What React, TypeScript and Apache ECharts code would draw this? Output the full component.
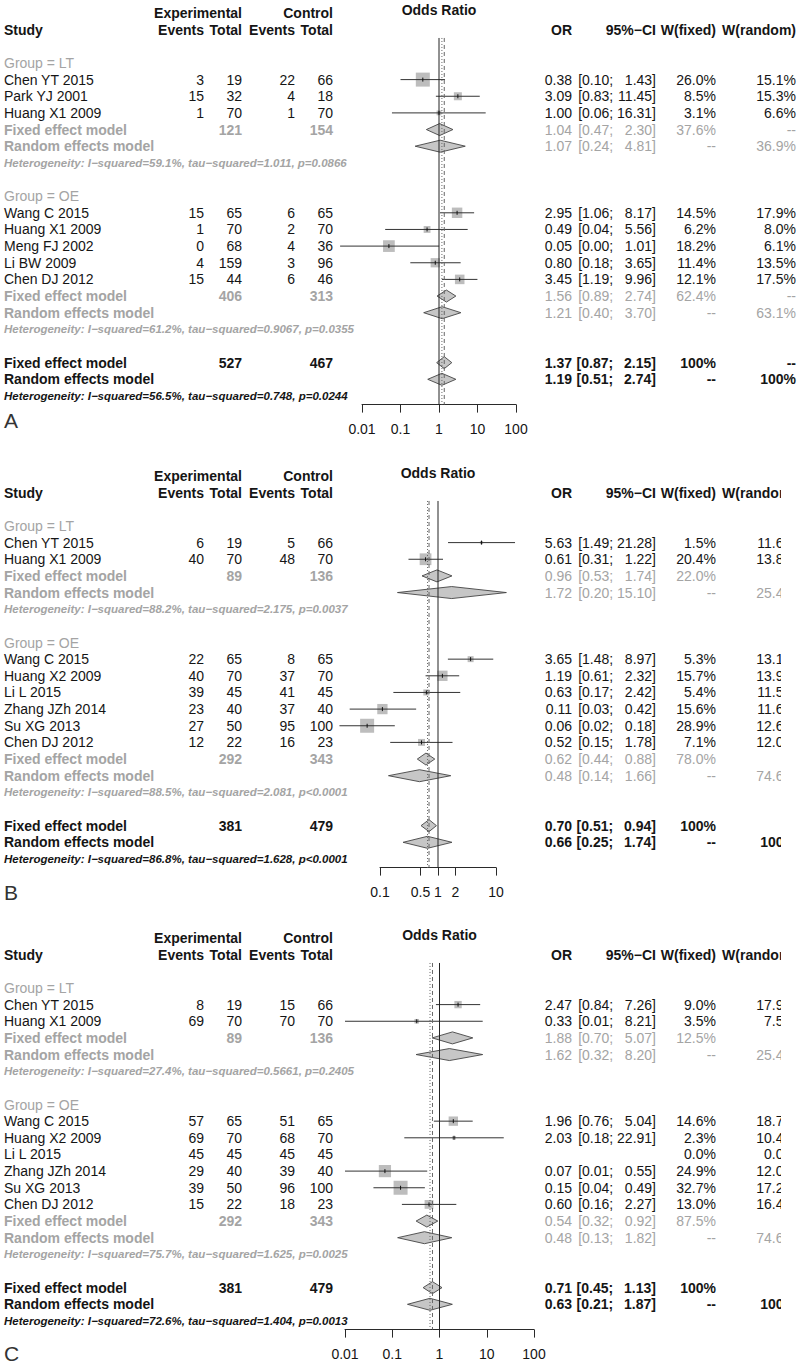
import React, { useEffect, useRef } from "react";
import * as echarts from "echarts";

// ===================== DATA : panel A =====================
const studiesA = ["Chen YT 2015", "Park YJ 2001", "Huang X1 2009", "Wang C 2015", "Huang X1 2009", "Meng FJ 2002", "Li BW 2009", "Chen DJ 2012"];
const groupOfA = ["LT", "LT", "LT", "OE", "OE", "OE", "OE", "OE"];
const expEventsA = [3, 15, 1, 15, 1, 0, 4, 15];
const expTotalA = [19, 32, 70, 65, 70, 68, 159, 44];
const ctrlEventsA = [22, 4, 1, 6, 2, 4, 3, 6];
const ctrlTotalA = [66, 18, 70, 65, 70, 36, 96, 46];
const orA = [0.38, 3.09, 1.0, 2.95, 0.49, 0.05, 0.8, 3.45];
const lowerA = [0.1, 0.83, 0.06, 1.06, 0.04, 0.0027, 0.18, 1.19];
const upperA = [1.43, 11.45, 16.31, 8.17, 5.56, 1.01, 3.65, 9.96];
const wFixedA = [26.0, 8.5, 3.1, 14.5, 6.2, 18.2, 11.4, 12.1];
const wRandomA = [15.1, 15.3, 6.6, 17.9, 8.0, 6.1, 13.5, 17.5];
const subgroupsA = ["LT", "OE"];
const subExpTotalA = [121, 406];
const subCtrlTotalA = [154, 313];
const subFixedOrA = [1.04, 1.56];
const subFixedLoA = [0.47, 0.89];
const subFixedHiA = [2.3, 2.74];
const subFixedWA = [37.6, 62.4];
const subRandomOrA = [1.07, 1.21];
const subRandomLoA = [0.24, 0.4];
const subRandomHiA = [4.81, 3.7];
const subRandomWA = [36.9, 63.1];
const subHetA = ["I\u2212squared=59.1%, tau\u2212squared=1.011, p=0.0866", "I\u2212squared=61.2%, tau\u2212squared=0.9067, p=0.0355"];
const overallTotalsA = [527, 467];
const overallFixedA = [1.37, 0.87, 2.15];
const overallRandomA = [1.19, 0.51, 2.74];
const overallHetA = "I\u2212squared=56.5%, tau\u2212squared=0.748, p=0.0244";
const ticksA = [0.01, 0.1, 1, 10, 100];

// ===================== DATA : panel B =====================
const studiesB = ["Chen YT 2015", "Huang X1 2009", "Wang C 2015", "Huang X2 2009", "Li L 2015", "Zhang JZh 2014", "Su XG 2013", "Chen DJ 2012"];
const groupOfB = ["LT", "LT", "OE", "OE", "OE", "OE", "OE", "OE"];
const expEventsB = [6, 40, 22, 40, 39, 23, 27, 12];
const expTotalB = [19, 70, 65, 70, 45, 40, 50, 22];
const ctrlEventsB = [5, 48, 8, 37, 41, 37, 95, 16];
const ctrlTotalB = [66, 70, 65, 70, 45, 40, 100, 23];
const orB = [5.63, 0.61, 3.65, 1.19, 0.63, 0.11, 0.06, 0.52];
const lowerB = [1.49, 0.31, 1.48, 0.61, 0.17, 0.03, 0.02, 0.15];
const upperB = [21.28, 1.22, 8.97, 2.32, 2.42, 0.42, 0.18, 1.78];
const wFixedB = [1.5, 20.4, 5.3, 15.7, 5.4, 15.6, 28.9, 7.1];
const wRandomB = [11.6, 13.8, 13.1, 13.9, 11.5, 11.6, 12.6, 12.0];
const subgroupsB = ["LT", "OE"];
const subExpTotalB = [89, 292];
const subCtrlTotalB = [136, 343];
const subFixedOrB = [0.96, 0.62];
const subFixedLoB = [0.53, 0.44];
const subFixedHiB = [1.74, 0.88];
const subFixedWB = [22.0, 78.0];
const subRandomOrB = [1.72, 0.48];
const subRandomLoB = [0.2, 0.14];
const subRandomHiB = [15.1, 1.66];
const subRandomWB = [25.4, 74.6];
const subHetB = ["I\u2212squared=88.2%, tau\u2212squared=2.175, p=0.0037", "I\u2212squared=88.5%, tau\u2212squared=2.081, p<0.0001"];
const overallTotalsB = [381, 479];
const overallFixedB = [0.7, 0.51, 0.94];
const overallRandomB = [0.66, 0.25, 1.74];
const overallHetB = "I\u2212squared=86.8%, tau\u2212squared=1.628, p<0.0001";
const ticksB = [0.1, 0.5, 1, 2, 10];

// ===================== DATA : panel C =====================
const studiesC = ["Chen YT 2015", "Huang X1 2009", "Wang C 2015", "Huang X2 2009", "Li L 2015", "Zhang JZh 2014", "Su XG 2013", "Chen DJ 2012"];
const groupOfC = ["LT", "LT", "OE", "OE", "OE", "OE", "OE", "OE"];
const expEventsC = [8, 69, 57, 69, 45, 29, 39, 15];
const expTotalC = [19, 70, 65, 70, 45, 40, 50, 22];
const ctrlEventsC = [15, 70, 51, 68, 45, 39, 96, 18];
const ctrlTotalC = [66, 70, 65, 70, 45, 40, 100, 23];
const orC = [2.47, 0.33, 1.96, 2.03, null, 0.07, 0.15, 0.6];
const lowerC = [0.84, 0.01, 0.76, 0.18, null, 0.01, 0.04, 0.16];
const upperC = [7.26, 8.21, 5.04, 22.91, null, 0.55, 0.49, 2.27];
const wFixedC = [9.0, 3.5, 14.6, 2.3, 0.0, 24.9, 32.7, 13.0];
const wRandomC = [17.9, 7.5, 18.7, 10.4, 0.0, 12.0, 17.2, 16.4];
const subgroupsC = ["LT", "OE"];
const subExpTotalC = [89, 292];
const subCtrlTotalC = [136, 343];
const subFixedOrC = [1.88, 0.54];
const subFixedLoC = [0.7, 0.32];
const subFixedHiC = [5.07, 0.92];
const subFixedWC = [12.5, 87.5];
const subRandomOrC = [1.62, 0.48];
const subRandomLoC = [0.32, 0.13];
const subRandomHiC = [8.2, 1.82];
const subRandomWC = [25.4, 74.6];
const subHetC = ["I\u2212squared=27.4%, tau\u2212squared=0.5661, p=0.2405", "I\u2212squared=75.7%, tau\u2212squared=1.625, p=0.0025"];
const overallTotalsC = [381, 479];
const overallFixedC = [0.71, 0.45, 1.13];
const overallRandomC = [0.63, 0.21, 1.87];
const overallHetC = "I\u2212squared=72.6%, tau\u2212squared=1.404, p=0.0013";
const ticksC = [0.01, 0.1, 1, 10, 100];

const panelLetters = ["A", "B", "C"];

// ===================== LAYOUT / STYLE =====================
const FONT = '"Liberation Sans", Arial, Helvetica, sans-serif';
const BLACK = "#151515";
const GRAY = "#a4a4a4";
const FS = 14;
const HET_FS = 11.5;
const STEP = 16.65;
const Y_MIN = 1.5;
const Y_MAX = 23.52;
const ROW0 = [13, 476, 938];
const AXIS_PX = [[362, 516], [380, 496], [345, 534]];
const LETTER_ROW = [24.47, 25.0, 24.95];
const COL = { study: 4, expEv: 204, expTot: 242, ctlEv: 295, ctlTot: 333, or: 572, ci: 656, wf: 716, wr: 796 };
const SQ_MAX = 14;
const DIAMOND_H = 12;
const CUT_X = 781;

let measureCtx: CanvasRenderingContext2D | null = null;
function textW(s: string, size: number, bold: boolean) {
  if (!measureCtx && typeof document !== "undefined") {
    measureCtx = document.createElement("canvas").getContext("2d");
  }
  if (!measureCtx) return s.length * size * 0.55;
  measureCtx.font = `${bold ? "bold " : ""}${size}px ${FONT}`;
  return measureCtx.measureText(s).width;
}

type Txt = { text: string; x: number | "axis1"; align: "left" | "right" | "center"; color: string; bold?: boolean; italic?: boolean; size?: number };
type Row = { row: number; texts: Txt[] };

function buildPanel(p: any) {
  const rows: Row[] = [];
  const marks: number[][] = []; // [or, row, lo, hi, w, kind]
  const f2 = (v: number) => v.toFixed(2);
  const allHi: number[] = [
    ...p.upper.filter((v: any) => v != null),
    ...p.subFixedHi,
    ...p.subRandomHi,
    p.overallFixed[2],
    p.overallRandom[2],
  ];
  const maxHiW = Math.max(...allHi.map((v) => textW(f2(v) + "]", FS, false)));
  const loRight = COL.ci - maxHiW - textW(" ", FS, false);
  const ci = (lo: number, hi: number, color: string, bold = false): Txt[] => [
    { text: "[" + f2(lo) + ";", x: loRight, align: "right", color, bold },
    { text: f2(hi) + "]", x: COL.ci, align: "right", color, bold },
  ];
  const pct = (w: number) => (w >= 100 ? "100%" : w.toFixed(1) + "%");

  rows.push({ row: -0.2, texts: [{ text: "Odds Ratio", x: "axis1", align: "center", color: BLACK, bold: true }] });
  rows.push({
    row: 0,
    texts: [
      { text: "Experimental", x: COL.expTot, align: "right", color: BLACK, bold: true },
      { text: "Control", x: COL.ctlTot, align: "right", color: BLACK, bold: true },
    ],
  });
  rows.push({
    row: 1,
    texts: [
      { text: "Study", x: COL.study, align: "left", color: BLACK, bold: true },
      { text: "Events", x: COL.expEv, align: "right", color: BLACK, bold: true },
      { text: "Total", x: COL.expTot, align: "right", color: BLACK, bold: true },
      { text: "Events", x: COL.ctlEv, align: "right", color: BLACK, bold: true },
      { text: "Total", x: COL.ctlTot, align: "right", color: BLACK, bold: true },
      { text: "OR", x: COL.or, align: "right", color: BLACK, bold: true },
      { text: "95%\u2212CI", x: COL.ci, align: "right", color: BLACK, bold: true },
      { text: "W(fixed)", x: COL.wf, align: "right", color: BLACK, bold: true },
      { text: "W(random)", x: COL.wr, align: "right", color: BLACK, bold: true },
    ],
  });

  let r = 3;
  p.subgroups.forEach((g: string, gi: number) => {
    rows.push({ row: r, texts: [{ text: "Group = " + g, x: COL.study, align: "left", color: GRAY }] });
    r++;
    p.studies.forEach((name: string, i: number) => {
      if (p.groups[i] !== g) return;
      const t: Txt[] = [
        { text: name, x: COL.study, align: "left", color: BLACK },
        { text: String(p.expEv[i]), x: COL.expEv, align: "right", color: BLACK },
        { text: String(p.expTot[i]), x: COL.expTot, align: "right", color: BLACK },
        { text: String(p.ctlEv[i]), x: COL.ctlEv, align: "right", color: BLACK },
        { text: String(p.ctlTot[i]), x: COL.ctlTot, align: "right", color: BLACK },
        { text: pct(p.wFixed[i]), x: COL.wf, align: "right", color: BLACK },
        { text: pct(p.wRandom[i]), x: COL.wr, align: "right", color: BLACK },
      ];
      if (p.or[i] != null) {
        t.push({ text: f2(p.or[i]), x: COL.or, align: "right", color: BLACK });
        t.push(...ci(p.lower[i], p.upper[i], BLACK));
        marks.push([p.or[i], r, p.lower[i], p.upper[i], p.wFixed[i], 0]);
      }
      rows.push({ row: r, texts: t });
      r++;
    });
    rows.push({
      row: r,
      texts: [
        { text: "Fixed effect model", x: COL.study, align: "left", color: GRAY, bold: true },
        { text: String(p.subExpTot[gi]), x: COL.expTot, align: "right", color: GRAY, bold: true },
        { text: String(p.subCtlTot[gi]), x: COL.ctlTot, align: "right", color: GRAY, bold: true },
        { text: f2(p.subFixedOr[gi]), x: COL.or, align: "right", color: GRAY },
        ...ci(p.subFixedLo[gi], p.subFixedHi[gi], GRAY),
        { text: pct(p.subFixedW[gi]), x: COL.wf, align: "right", color: GRAY },
        { text: "--", x: COL.wr, align: "right", color: GRAY },
      ],
    });
    marks.push([p.subFixedOr[gi], r, p.subFixedLo[gi], p.subFixedHi[gi], 0, 1]);
    r++;
    rows.push({
      row: r,
      texts: [
        { text: "Random effects model", x: COL.study, align: "left", color: GRAY, bold: true },
        { text: f2(p.subRandomOr[gi]), x: COL.or, align: "right", color: GRAY },
        ...ci(p.subRandomLo[gi], p.subRandomHi[gi], GRAY),
        { text: "--", x: COL.wf, align: "right", color: GRAY },
        { text: pct(p.subRandomW[gi]), x: COL.wr, align: "right", color: GRAY },
      ],
    });
    marks.push([p.subRandomOr[gi], r, p.subRandomLo[gi], p.subRandomHi[gi], 0, 1]);
    r++;
    rows.push({
      row: r,
      texts: [{ text: "Heterogeneity: " + p.subHet[gi], x: COL.study, align: "left", color: GRAY, bold: true, italic: true, size: HET_FS }],
    });
    r += 2;
  });

  rows.push({
    row: r,
    texts: [
      { text: "Fixed effect model", x: COL.study, align: "left", color: BLACK, bold: true },
      { text: String(p.overallTotals[0]), x: COL.expTot, align: "right", color: BLACK, bold: true },
      { text: String(p.overallTotals[1]), x: COL.ctlTot, align: "right", color: BLACK, bold: true },
      { text: f2(p.overallFixed[0]), x: COL.or, align: "right", color: BLACK, bold: true },
      ...ci(p.overallFixed[1], p.overallFixed[2], BLACK, true),
      { text: "100%", x: COL.wf, align: "right", color: BLACK, bold: true },
      { text: "--", x: COL.wr, align: "right", color: BLACK, bold: true },
    ],
  });
  marks.push([p.overallFixed[0], r, p.overallFixed[1], p.overallFixed[2], 0, 1]);
  r++;
  rows.push({
    row: r,
    texts: [
      { text: "Random effects model", x: COL.study, align: "left", color: BLACK, bold: true },
      { text: f2(p.overallRandom[0]), x: COL.or, align: "right", color: BLACK, bold: true },
      ...ci(p.overallRandom[1], p.overallRandom[2], BLACK, true),
      { text: "--", x: COL.wf, align: "right", color: BLACK, bold: true },
      { text: "100%", x: COL.wr, align: "right", color: BLACK, bold: true },
    ],
  });
  marks.push([p.overallRandom[0], r, p.overallRandom[1], p.overallRandom[2], 0, 1]);
  r++;
  rows.push({
    row: r,
    texts: [{ text: "Heterogeneity: " + p.overallHet, x: COL.study, align: "left", color: BLACK, bold: true, italic: true, size: HET_FS }],
  });
  rows.push({ row: p.letterRow, texts: [{ text: p.letter, x: COL.study, align: "left", color: "#333", size: 21 }] });

  const maxW = Math.max(...p.wFixed);
  return { rows, marks, maxW };
}

function buildOption() {
  const panels = [
    { studies: studiesA, groups: groupOfA, expEv: expEventsA, expTot: expTotalA, ctlEv: ctrlEventsA, ctlTot: ctrlTotalA, or: orA, lower: lowerA, upper: upperA, wFixed: wFixedA, wRandom: wRandomA, subgroups: subgroupsA, subExpTot: subExpTotalA, subCtlTot: subCtrlTotalA, subFixedOr: subFixedOrA, subFixedLo: subFixedLoA, subFixedHi: subFixedHiA, subFixedW: subFixedWA, subRandomOr: subRandomOrA, subRandomLo: subRandomLoA, subRandomHi: subRandomHiA, subRandomW: subRandomWA, subHet: subHetA, overallTotals: overallTotalsA, overallFixed: overallFixedA, overallRandom: overallRandomA, overallHet: overallHetA, ticks: ticksA },
    { studies: studiesB, groups: groupOfB, expEv: expEventsB, expTot: expTotalB, ctlEv: ctrlEventsB, ctlTot: ctrlTotalB, or: orB, lower: lowerB, upper: upperB, wFixed: wFixedB, wRandom: wRandomB, subgroups: subgroupsB, subExpTot: subExpTotalB, subCtlTot: subCtrlTotalB, subFixedOr: subFixedOrB, subFixedLo: subFixedLoB, subFixedHi: subFixedHiB, subFixedW: subFixedWB, subRandomOr: subRandomOrB, subRandomLo: subRandomLoB, subRandomHi: subRandomHiB, subRandomW: subRandomWB, subHet: subHetB, overallTotals: overallTotalsB, overallFixed: overallFixedB, overallRandom: overallRandomB, overallHet: overallHetB, ticks: ticksB },
    { studies: studiesC, groups: groupOfC, expEv: expEventsC, expTot: expTotalC, ctlEv: ctrlEventsC, ctlTot: ctrlTotalC, or: orC, lower: lowerC, upper: upperC, wFixed: wFixedC, wRandom: wRandomC, subgroups: subgroupsC, subExpTot: subExpTotalC, subCtlTot: subCtrlTotalC, subFixedOr: subFixedOrC, subFixedLo: subFixedLoC, subFixedHi: subFixedHiC, subFixedW: subFixedWC, subRandomOr: subRandomOrC, subRandomLo: subRandomLoC, subRandomHi: subRandomHiC, subRandomW: subRandomWC, subHet: subHetC, overallTotals: overallTotalsC, overallFixed: overallFixedC, overallRandom: overallRandomC, overallHet: overallHetC, ticks: ticksC },
  ].map((p, i) => ({ ...p, letter: panelLetters[i], letterRow: LETTER_ROW[i] }));

  const grid: any[] = [];
  const xAxis: any[] = [];
  const yAxis: any[] = [];
  const series: any[] = [];

  panels.forEach((p, i) => {
    const built = buildPanel(p);
    const [x0, x1] = AXIS_PX[i];
    grid.push({
      left: x0,
      width: x1 - x0,
      top: ROW0[i] + Y_MIN * STEP,
      height: (Y_MAX - Y_MIN) * STEP,
      containLabel: false,
      outerBoundsMode: "none",
    });
    const ticks = p.ticks;
    xAxis.push({
      type: "log",
      logBase: 10,
      gridIndex: i,
      min: ticks[0],
      max: ticks[ticks.length - 1],
      axisLine: { show: true, lineStyle: { color: "#2a2a2a", width: 1 } },
      axisTick: { show: true, length: 8, inside: false, customValues: ticks, lineStyle: { color: "#2a2a2a", width: 1 } },
      axisLabel: {
        show: true,
        customValues: ticks,
        margin: 17,
        fontSize: FS,
        fontFamily: FONT,
        color: BLACK,
        formatter: (v: number) => String(parseFloat(Number(v).toPrecision(6))),
      },
      splitLine: { show: false },
      minorTick: { show: false },
    });
    yAxis.push({ type: "value", gridIndex: i, min: Y_MIN, max: Y_MAX, inverse: true, show: false });

    const rows = built.rows;
    series.push({
      type: "custom",
      name: "table" + i,
      xAxisIndex: i,
      yAxisIndex: i,
      clip: false,
      silent: true,
      z: 2,
      data: rows.map((r) => [1, r.row]),
      renderItem: (params: any, api: any) => {
        const r = rows[params.dataIndex];
        const pt = api.coord([1, api.value(1)]);
        return {
          type: "group",
          children: r.texts.map((t) => ({
            type: "text",
            x: t.x === "axis1" ? pt[0] : t.x,
            y: pt[1],
            style: {
              text: t.text,
              align: t.align,
              verticalAlign: "middle",
              fill: t.color,
              fontSize: t.size ?? FS,
              fontFamily: FONT,
              fontWeight: t.bold ? "bold" : "normal",
              fontStyle: t.italic ? "italic" : "normal",
            },
          })),
        };
      },
    });

    const maxW = built.maxW;
    series.push({
      type: "custom",
      name: "forest" + i,
      xAxisIndex: i,
      yAxisIndex: i,
      clip: false,
      silent: true,
      z: 3,
      data: built.marks,
      renderItem: (params: any, api: any) => {
        const est = api.value(0);
        const row = api.value(1);
        const c = api.coord([est, row]);
        const lo = api.coord([api.value(2), row]);
        const hi = api.coord([api.value(3), row]);
        const kind = api.value(5);
        if (kind === 0) {
          const w = api.value(4);
          const s = SQ_MAX * Math.sqrt(w / maxW);
          return {
            type: "group",
            children: [
              { type: "rect", shape: { x: c[0] - s / 2, y: c[1] - s / 2, width: s, height: s }, style: { fill: "#bdbdbd" } },
              { type: "line", shape: { x1: lo[0], y1: c[1], x2: hi[0], y2: c[1] }, style: { stroke: "#333", lineWidth: 1 } },
              { type: "line", shape: { x1: c[0], y1: c[1] - 2, x2: c[0], y2: c[1] + 2 }, style: { stroke: "#111", lineWidth: 1 } },
            ],
          };
        }
        const h = DIAMOND_H / 2;
        return {
          type: "polygon",
          shape: { points: [[lo[0], c[1]], [c[0], c[1] - h], [hi[0], c[1]], [c[0], c[1] + h]] },
          style: { fill: "#c6c6c6", stroke: "#444", lineWidth: 0.9 },
        };
      },
    });

    series.push({
      type: "custom",
      name: "ref" + i,
      xAxisIndex: i,
      yAxisIndex: i,
      clip: false,
      silent: true,
      z: 4,
      data: [
        [1, 0],
        [p.overallFixed[0], 1],
        [p.overallRandom[0], 2],
      ],
      renderItem: (params: any, api: any) => {
        const v = api.value(0);
        const t = api.value(1);
        const a = api.coord([v, Y_MIN]);
        const b = api.coord([v, Y_MAX]);
        const style: any =
          t === 0
            ? { stroke: "#222", lineWidth: 1 }
            : t === 1
            ? { stroke: "#666", lineWidth: 1, lineDash: [4, 3] }
            : { stroke: "#666", lineWidth: 1, lineDash: [1, 2] };
        return { type: "line", shape: { x1: a[0], y1: a[1], x2: b[0], y2: b[1] }, style };
      },
    });
  });

  return {
    animation: false,
    backgroundColor: "#ffffff",
    grid,
    xAxis,
    yAxis,
    series,
    graphic: [
      { type: "rect", z: 100, shape: { x: CUT_X, y: 450, width: 800 - CUT_X, height: 914 }, style: { fill: "#ffffff" } },
    ],
  };
}

export default function App() {
  const ref = useRef<HTMLDivElement>(null);
  useEffect(() => {
    if (!ref.current) return;
    const chart = echarts.init(ref.current, null, { renderer: "svg" });
    chart.setOption(buildOption() as any);
    return () => chart.dispose();
  }, []);
  return <div ref={ref} style={{ position: "absolute", left: 0, top: 0, width: 800, height: 1364, background: "#fff" }} />;
}
